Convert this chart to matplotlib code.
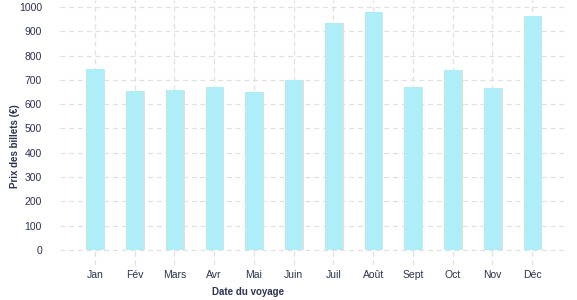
import matplotlib
matplotlib.use("Agg")
import matplotlib.pyplot as plt
import numpy as np

months = ["Jan", "Fév", "Mars", "Avr", "Mai", "Juin",
          "Juil", "Août", "Sept", "Oct", "Nov", "Déc"]
prices = [745, 654, 658, 670, 650, 700, 934, 979, 671, 741, 667, 963]
yticks = [0, 100, 200, 300, 400, 500, 600, 700, 800, 900, 1000]

plt.rcParams["font.family"] = ["Liberation Sans", "DejaVu Sans"]
navy = "#2b3350"

fig = plt.figure(figsize=(5.77, 3.0), dpi=100)
ax = fig.add_axes([0.104, 0.117, 0.879, 0.883])

x = np.arange(len(months))
# thin grey shadow offset to the right, then the bars
ax.bar(x + 0.04, prices, width=0.43, color="#dedede", zorder=2)
ax.bar(x, prices, width=0.43, color="#aeeef8", zorder=3)

ax.set_xlim(-0.88, 11.88)
ax.set_ylim(-62, 1029)
ax.set_xticks(x)
ax.set_xticklabels(months)
ax.set_yticks(yticks)

ax.grid(True, axis="both", color="#e0e0e0", ls=(0, (4, 3)), lw=0.9, zorder=0)
ax.set_axisbelow(True)
for s in ax.spines.values():
    s.set_visible(False)
ax.tick_params(axis="both", length=0, colors=navy, labelsize=7.5)
ax.tick_params(axis="y", pad=13)
ax.tick_params(axis="x", pad=4)

ax.set_ylabel("Prix des billets (€)", fontsize=7, fontweight="bold", color=navy)
ax.yaxis.set_label_coords(-0.078, 0.45)
ax.set_xlabel("Date du voyage", fontsize=7, fontweight="bold", color=navy)
ax.xaxis.set_label_coords(0.37, -0.085)

fig.savefig("out.png", dpi=100)
